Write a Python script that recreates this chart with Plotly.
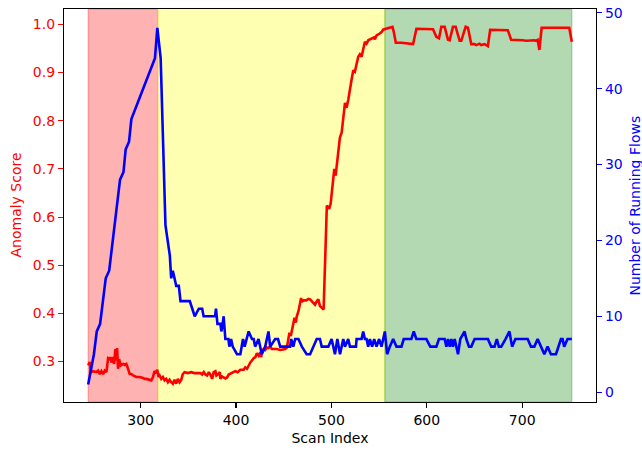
import plotly.graph_objects as go

# ---- data ----
score_x = [245.0, 246.7, 247.8, 250.2, 253.7, 255.4, 257.2, 258.9, 260.7, 262.4, 264.1, 265.2, 265.9, 267.6,
           268.7, 269.4, 271.1, 272.2, 273.5, 274.6, 275.3, 276.3, 277.4, 279.1, 281.6, 283.3, 285.0, 286.8,
           288.5, 290.3, 292.0, 295.5, 299.0, 302.5, 304.2, 305.9, 309.4, 311.2, 312.9, 314.6, 316.4, 317.4,
           318.8, 319.9, 321.6, 323.4, 325.1, 326.8, 328.6, 330.3, 332.1, 333.8, 335.5, 337.3, 339.0, 340.8,
           342.5, 344.2, 346.0, 349.5, 352.9, 356.4, 359.9, 362.7, 364.4, 366.2, 367.9, 369.7, 371.4, 373.1,
           374.9, 376.6, 378.4, 379.4, 380.8, 382.9, 383.6, 385.3, 388.8, 390.6, 392.3, 395.8, 399.3, 401.7,
           404.5, 408.0, 409.7, 411.5, 413.2, 415.0, 416.7, 418.4, 420.2, 421.9, 423.7, 425.4, 426.4, 427.1,
           428.9, 430.6, 432.4, 434.1, 435.8, 437.6, 439.3, 442.8, 446.3, 449.8, 451.5, 453.3, 455.0, 456.0,
           457.4, 458.5, 459.5, 461.3, 462.7, 463.7, 465.5, 467.2, 468.2, 468.9, 470.7, 473.5, 475.9, 477.6,
           479.4, 481.1, 482.8, 484.6, 486.3, 488.0, 489.8, 491.8, 495.2, 497.6, 499.2, 502.0, 503.0, 504.4,
           505.5, 508.9, 510.7, 514.2, 515.9, 517.7, 521.1, 522.9, 524.6, 528.1, 529.8, 531.6, 535.1, 536.8,
           538.6, 542.0, 544.5, 545.5, 547.3, 550.7, 552.5, 554.2, 557.7, 561.2, 564.0, 565.4, 567.5, 573.4,
           576.9, 580.4, 585.6, 589.1, 596.1, 606.5, 610.0, 612.8, 615.2, 618.7, 622.2, 623.9, 627.4, 630.2,
           634.4, 636.1, 640.7, 643.1, 646.6, 650.1, 651.8, 655.3, 657.0, 660.5, 662.3, 664.0, 666.4, 669.2,
           679.7, 684.9, 688.4, 693.6, 697.1, 700.6, 704.1, 707.5, 712.8, 714.5, 716.2, 718.0, 720.4, 725.0,
           731.9, 740.6, 747.6, 749.3, 752.0]
score_y = [0.292, 0.299, 0.278, 0.280, 0.278, 0.281, 0.274, 0.280, 0.274, 0.281, 0.278, 0.295, 0.307, 0.305,
           0.309, 0.298, 0.309, 0.295, 0.326, 0.302, 0.328, 0.285, 0.305, 0.292, 0.295, 0.293, 0.295, 0.285,
           0.274, 0.274, 0.271, 0.268, 0.268, 0.266, 0.264, 0.264, 0.262, 0.261, 0.268, 0.280, 0.276, 0.283,
           0.268, 0.271, 0.264, 0.268, 0.261, 0.264, 0.257, 0.262, 0.257, 0.254, 0.262, 0.254, 0.264, 0.257,
           0.262, 0.274, 0.278, 0.276, 0.278, 0.276, 0.276, 0.276, 0.273, 0.278, 0.273, 0.271, 0.278, 0.273,
           0.264, 0.278, 0.280, 0.271, 0.273, 0.278, 0.264, 0.269, 0.265, 0.267, 0.273, 0.276, 0.280, 0.278,
           0.283, 0.283, 0.288, 0.285, 0.292, 0.298, 0.302, 0.307, 0.309, 0.317, 0.312, 0.319, 0.309, 0.322,
           0.326, 0.324, 0.329, 0.328, 0.331, 0.326, 0.326, 0.326, 0.324, 0.326, 0.326, 0.329, 0.346, 0.360,
           0.353, 0.364, 0.381, 0.391, 0.381, 0.394, 0.405, 0.427, 0.432, 0.424, 0.427, 0.427, 0.430, 0.429,
           0.425, 0.422, 0.418, 0.425, 0.429, 0.415, 0.411, 0.408, 0.624, 0.617, 0.628, 0.693, 0.700, 0.686,
           0.706, 0.765, 0.775, 0.837, 0.827, 0.844, 0.885, 0.905, 0.902, 0.933, 0.938, 0.933, 0.964, 0.960,
           0.967, 0.971, 0.973, 0.969, 0.977, 0.981, 0.984, 0.989, 0.991, 0.993, 0.995, 0.984, 0.962, 0.962,
           0.961, 0.959, 0.959, 0.991, 0.991, 0.990, 0.974, 0.971, 0.995, 0.995, 0.968, 0.967, 0.995, 0.995,
           0.966, 0.966, 0.995, 0.993, 0.959, 0.959, 0.957, 0.960, 0.957, 0.959, 0.957, 0.955, 0.989, 0.989,
           0.989, 0.988, 0.968, 0.968, 0.967, 0.967, 0.966, 0.967, 0.967, 0.966, 0.968, 0.947, 0.993, 0.993,
           0.993, 0.993, 0.993, 0.993, 0.964]

flows_x = [245, 249.5, 251, 254, 257.5, 263.4, 267, 278.4, 282, 284.3, 287.8, 290.3, 315, 317.5, 321, 326,
           330.6, 332, 333.7, 335.5, 337.3, 340, 341.8, 351.5, 356.7, 361, 364.5, 366, 378, 379, 380.5, 383.6,
           384.6, 386, 387, 388.8, 392, 393, 394.8, 396.5, 401, 404.5, 407.3, 409, 413.2, 416.7, 418.5, 420,
           423.6, 427, 430.6, 434, 435.8, 441, 444, 446.3, 456.7, 457.8, 460, 462, 465.4, 469, 474, 477.6,
           481, 484.6, 488, 489.8, 496.8, 500.2, 503.7, 506.2, 509, 512.4, 514.2, 517.6, 519.4, 525.7, 526.4,
           531.6, 533.3, 535.1, 536.8, 538.5, 540.3, 542.7, 544.8, 547.3, 550, 552.5, 556, 558.4, 561.2,
           564.7, 568.2, 573.4, 575.8, 583.8, 586.3, 589, 599.5, 603.7, 610, 612.7, 618.7, 620.5, 622.2, 624,
           625.7, 627.4, 629.2, 632.7, 635.1, 639.6, 641.4, 644.2, 646.6, 650.1, 664, 667.5, 671, 673.4,
           675.5, 678, 682.5, 686.6, 689.4, 692.9, 705.7, 709.2, 712.7, 716.2, 719.7, 723.2, 726.6, 730.1,
           735.4, 740.6, 742.3, 744, 747.5, 752]
flows_y = [1, 4, 5, 8, 9, 15, 16, 28, 29, 32, 33, 36, 44, 48, 44, 22,
           18, 15, 16, 15, 14, 14, 12, 12, 10, 11, 11, 10, 10, 11, 9, 9,
           8, 9, 10, 7, 7, 6, 7, 6, 5, 5, 7, 6, 8, 7, 7, 6,
           7, 5, 6, 8, 6, 7, 7, 6, 6, 7, 6, 7, 7, 6, 5, 5,
           6, 7, 7, 6, 6, 7, 5, 7, 5, 7, 6, 7, 6, 6, 7,
           7, 8, 7, 7, 6, 7, 6, 7, 6, 7, 6, 8, 5, 6,
           7, 6, 6, 7, 7, 8, 7, 7, 6, 6, 7, 7, 6, 7, 6,
           7, 6, 7, 5, 7, 8, 7, 6, 6, 7, 7, 6, 6, 7,
           6, 6, 7, 8, 6, 7, 7, 6, 6, 7, 6, 5, 6, 5,
           5, 7, 7, 6, 7, 7]

phase_bounds = [245, 318, 556, 752]
phase_colors = ["rgba(255,0,0,0.3)", "rgba(255,255,0,0.3)", "rgba(0,128,0,0.3)"]

score_ticks = [0.3, 0.4, 0.5, 0.6, 0.7, 0.8, 0.9, 1.0]
flow_ticks = [0, 10, 20, 30, 40, 50]
x_ticks = [300, 400, 500, 600, 700]

FONT = "DejaVu Sans"
FS = 14

fig = go.Figure()
fig.add_trace(go.Scatter(x=score_x, y=score_y, mode="lines", line=dict(color="#ff0000", width=2.6),
                         yaxis="y", showlegend=False, hoverinfo="skip"))
fig.add_trace(go.Scatter(x=flows_x, y=flows_y, mode="lines", line=dict(color="#0000ff", width=2.6),
                         yaxis="y2", showlegend=False, hoverinfo="skip"))

for i, col in enumerate(phase_colors):
    fig.add_shape(type="rect", xref="x", yref="paper", x0=phase_bounds[i], x1=phase_bounds[i + 1],
                  y0=0, y1=1, fillcolor=col, line=dict(color=col, width=1.2), layer="below")

fig.update_layout(
    width=642, height=450,
    margin=dict(l=64, r=46, t=5, b=48),
    paper_bgcolor="white", plot_bgcolor="white",
    font=dict(family=FONT, size=FS, color="black"),
    xaxis=dict(range=[219.65, 777.35], tickvals=x_ticks, showgrid=False, zeroline=False,
               showline=True, mirror=True, linecolor="black", linewidth=1.1,
               ticks="outside", ticklen=5, tickwidth=1.1, tickcolor="black",
               tickfont=dict(family=FONT, size=FS, color="black"),
               title=dict(text="Scan Index", font=dict(family=FONT, size=FS, color="black"), standoff=6)),
    yaxis=dict(range=[0.216, 1.032], tickvals=score_ticks, tickformat=".1f", showgrid=False, zeroline=False,
               showline=True, linecolor="black", linewidth=1.1,
               ticks="outside", ticklen=5, tickwidth=1.1, tickcolor="#ff0000",
               tickfont=dict(family=FONT, size=FS, color="#ff0000")),
    yaxis2=dict(range=[-1.3, 50.5], tickvals=flow_ticks, overlaying="y", side="right", showgrid=False,
                zeroline=False, showline=True, linecolor="black", linewidth=1.1,
                ticks="outside", ticklen=5, tickwidth=1.1, tickcolor="#0000ff",
                tickfont=dict(family=FONT, size=FS, color="#0000ff")),
)

fig.add_annotation(text="Anomaly Score", xref="paper", yref="paper", x=(15 - 64) / 532, y=0.5,
                   xanchor="center", yanchor="middle", textangle=-90, showarrow=False,
                   font=dict(family=FONT, size=FS, color="#ff0000"))
fig.add_annotation(text="Number of Running Flows", xref="paper", yref="paper", x=(634 - 64) / 532, y=0.5,
                   xanchor="center", yanchor="middle", textangle=-90, showarrow=False,
                   font=dict(family=FONT, size=FS, color="#0000ff"))

fig.write_html("out.html", config={"displayModeBar": False, "staticPlot": True},
               post_script="document.body.style.margin='0';document.body.style.overflow='hidden';")
